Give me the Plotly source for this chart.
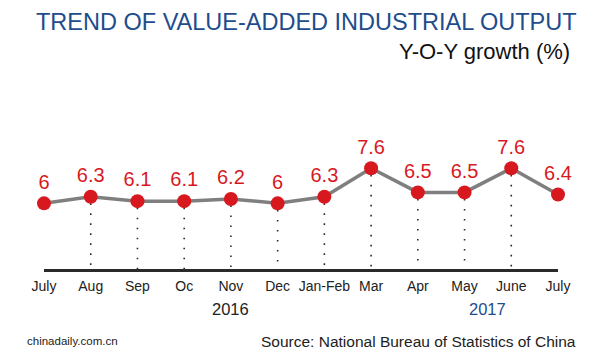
import plotly.graph_objects as go

months = ["July", "Aug", "Sep", "Oc", "Nov", "Dec", "Jan-Feb", "Mar", "Apr", "May", "June", "July"]
growth = [6.0, 6.3, 6.1, 6.1, 6.2, 6.0, 6.3, 7.6, 6.5, 6.5, 7.6, 6.4]
labels = ["6", "6.3", "6.1", "6.1", "6.2", "6", "6.3", "7.6", "6.5", "6.5", "7.6", "6.4"]
years = ["2016", "2017"]
year_pos = [4, 9.5]

BASE = 3.0
RED = "#d7191f"
BLUE = "#1e4c8c"
FONT = "Liberation Sans, Arial, sans-serif"

idx = list(range(len(months)))

# dotted drop lines (not for first and last)
dx, dy = [], []
for i in idx[1:-1]:
    dx += [i, i, None]
    dy += [growth[i] - 0.3, BASE, None]

fig = go.Figure()
fig.add_trace(go.Scatter(x=dx, y=dy, mode="lines",
                         line=dict(color="#2a2a2a", width=1.6, dash="1.6px,8.4px"),
                         hoverinfo="skip", showlegend=False))
fig.add_trace(go.Scatter(x=idx, y=growth, mode="lines+markers+text",
                         line=dict(color="#7f7f7f", width=3.5),
                         marker=dict(color=RED, size=14),
                         text=labels, textposition="top center",
                         textfont=dict(color=RED, size=20, family=FONT),
                         cliponaxis=False, showlegend=False))

fig.update_xaxes(range=[0, 11], tickmode="array", tickvals=idx, ticktext=months,
                 showgrid=False, zeroline=False, showline=True, linecolor="#2a2a2a",
                 linewidth=3, ticks="outside", ticklen=2, tickcolor="rgba(0,0,0,0)",
                 tickfont=dict(size=14, color="#222", family=FONT))
fig.update_yaxes(range=[BASE, 9.35], visible=False)

# page body has an 8px margin: work in reference pixels, shift by OFF
OFF = 8
W, H = 600 - OFF, 356 - OFF
L, R, T, B = 44 - OFF, 42, 130 - OFF, 87
pw, ph = W - L - R, H - T - B


def px(x):
    return (x - OFF - L) / pw


def py(y):
    return (H - B - (y - OFF)) / ph


annots = [
    dict(text="TREND OF VALUE-ADDED INDUSTRIAL OUTPUT", xref="paper", yref="paper",
         x=px(578), y=py(OFF), showarrow=False, xanchor="right", yanchor="top", borderpad=0,
         font=dict(family=FONT, size=23.5, color=BLUE)),
    dict(text="Y-O-Y growth (%)", xref="paper", yref="paper",
         x=px(572), y=py(52), showarrow=False, xanchor="right", yanchor="middle",
         font=dict(family=FONT, size=22, color="#111")),
    dict(text="Source: National Bureau of Statistics of China", xref="paper", yref="paper",
         x=px(578), y=py(341), showarrow=False, xanchor="right", yanchor="middle",
         font=dict(family=FONT, size=15.5, color="#222")),
    dict(text="chinadaily.com.cn", xref="paper", yref="paper",
         x=px(25), y=py(341), showarrow=False, xanchor="left", yanchor="middle",
         font=dict(family=FONT, size=11.5, color="#222")),
]
for yr, xp, col in zip(years, year_pos, ["#222", BLUE]):
    annots.append(dict(text=yr, xref="x", yref="paper", x=xp, y=py(309),
                       showarrow=False, xanchor="center", yanchor="middle",
                       font=dict(family=FONT, size=16.5, color=col)))

fig.update_layout(width=W, height=H, margin=dict(l=L, r=R, t=T, b=B, autoexpand=False),
                  paper_bgcolor="white", plot_bgcolor="white",
                  annotations=annots, font=dict(family=FONT))
fig.write_html("out.html")
